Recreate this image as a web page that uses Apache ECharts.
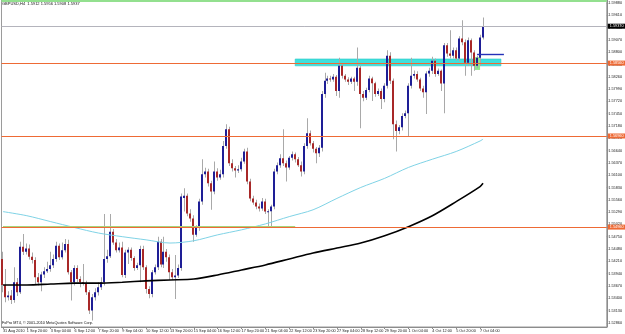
<!DOCTYPE html>
<html><head><meta charset="utf-8">
<script src="https://cdn.jsdelivr.net/npm/echarts@6/dist/echarts.min.js"></script>
<style>html,body{margin:0;padding:0;background:#fff}#c{width:625px;height:334px}</style>
</head><body><div id="c"></div>
<script>
// ---------- data ----------
const xLabels = ["31 Aug 2010","1 Sep 20:00","3 Sep 04:00","6 Sep 12:00","7 Sep 20:00","9 Sep 04:00","10 Sep 12:00","13 Sep 20:00","15 Sep 04:00","16 Sep 12:00","17 Sep 20:00","21 Sep 04:00","22 Sep 12:00","23 Sep 20:00","27 Sep 04:00","28 Sep 12:00","29 Sep 20:00","1 Oct 04:00","4 Oct 12:00","5 Oct 20:00","7 Oct 04:00"];
const yTicks = [1.5286,1.5313,1.5340,1.5367,1.5394,1.5421,1.5448,1.5475,1.5502,1.5529,1.5556,1.5583,1.5610,1.5637,1.5664,1.5691,1.5718,1.5745,1.5772,1.5799,1.5826,1.5853,1.5880,1.5907,1.5934,1.5961,1.5988];
// [open, close, low, high]
const ohlc = [
[1.5426,1.5369,1.5353,1.5442],[1.5369,1.5342,1.5331,1.5404],[1.5342,1.5346,1.5335,1.5355],[1.5346,1.5336,1.5327,1.5358],
[1.5336,1.5375,1.5330,1.5408],[1.5375,1.5353,1.5345,1.5384],[1.5353,1.5453,1.5349,1.5464],[1.5453,1.5442,1.5435,1.5481],
[1.5442,1.5449,1.5436,1.5460],[1.5449,1.5431,1.5425,1.5458],[1.5431,1.5424,1.5416,1.5440],[1.5424,1.5386,1.5370,1.5430],
[1.5386,1.5375,1.5368,1.5395],[1.5375,1.5392,1.5355,1.5398],[1.5392,1.5399,1.5384,1.5408],[1.5399,1.5404,1.5395,1.5420],
[1.5404,1.5412,1.5398,1.5442],[1.5412,1.5426,1.5406,1.5436],[1.5426,1.5455,1.5420,1.5464],[1.5455,1.5430,1.5424,1.5460],
[1.5430,1.5445,1.5425,1.5462],[1.5445,1.5459,1.5440,1.5470],[1.5459,1.5397,1.5392,1.5468],[1.5397,1.5375,1.5335,1.5402],
[1.5375,1.5406,1.5368,1.5412],[1.5406,1.5382,1.5375,1.5412],[1.5382,1.5375,1.5364,1.5388],[1.5375,1.5373,1.5368,1.5415],
[1.5373,1.5353,1.5347,1.5378],[1.5353,1.5313,1.5305,1.5358],[1.5313,1.5342,1.5291,1.5349],[1.5342,1.5353,1.5335,1.5362],
[1.5353,1.5364,1.5346,1.5375],[1.5364,1.5375,1.5358,1.5386],[1.5375,1.5426,1.5368,1.5525],[1.5426,1.5432,1.5418,1.5446],
[1.5432,1.5486,1.5428,1.5525],[1.5486,1.5462,1.5457,1.5492],[1.5462,1.5445,1.5440,1.5470],[1.5445,1.5451,1.5440,1.5462],
[1.5451,1.5391,1.5386,1.5464],[1.5391,1.5440,1.5384,1.5446],[1.5440,1.5446,1.5415,1.5452],[1.5446,1.5428,1.5422,1.5451],
[1.5428,1.5406,1.5400,1.5432],[1.5406,1.5412,1.5402,1.5418],[1.5412,1.5448,1.5375,1.5455],[1.5448,1.5408,1.5402,1.5455],
[1.5408,1.5360,1.5350,1.5412],[1.5360,1.5349,1.5340,1.5366],[1.5349,1.5397,1.5342,1.5402],[1.5397,1.5408,1.5392,1.5414],
[1.5408,1.5464,1.5402,1.5475],[1.5464,1.5414,1.5408,1.5470],[1.5414,1.5442,1.5406,1.5475],[1.5442,1.5430,1.5420,1.5448],
[1.5430,1.5397,1.5380,1.5436],[1.5397,1.5386,1.5380,1.5404],[1.5386,1.5390,1.5338,1.5435],[1.5390,1.5406,1.5384,1.5414],
[1.5406,1.5563,1.5400,1.5570],[1.5560,1.5565,1.5530,1.5581],[1.5565,1.5526,1.5520,1.5570],[1.5526,1.5515,1.5508,1.5535],
[1.5515,1.5479,1.5464,1.5522],[1.5479,1.5495,1.5475,1.5500],[1.5495,1.5552,1.5488,1.5558],[1.5552,1.5612,1.5545,1.5645],
[1.5612,1.5618,1.5605,1.5626],[1.5618,1.5592,1.5585,1.5624],[1.5592,1.5574,1.5534,1.5598],[1.5574,1.5618,1.5568,1.5640],
[1.5618,1.5605,1.5598,1.5625],[1.5605,1.5612,1.5600,1.5622],[1.5612,1.5674,1.5605,1.5685],[1.5674,1.5711,1.5668,1.5722],
[1.5711,1.5636,1.5630,1.5716],[1.5636,1.5625,1.5618,1.5645],[1.5625,1.5620,1.5605,1.5630],[1.5620,1.5623,1.5615,1.5632],
[1.5623,1.5640,1.5618,1.5648],[1.5640,1.5662,1.5635,1.5668],[1.5662,1.5596,1.5590,1.5670],[1.5596,1.5559,1.5553,1.5602],
[1.5559,1.5550,1.5545,1.5565],[1.5550,1.5541,1.5535,1.5556],[1.5541,1.5537,1.5530,1.5548],[1.5537,1.5552,1.5532,1.5560],
[1.5552,1.5530,1.5525,1.5558],[1.5530,1.5531,1.5497,1.5535],[1.5531,1.5541,1.5497,1.5545],[1.5541,1.5618,1.5535,1.5624],
[1.5618,1.5632,1.5612,1.5638],[1.5632,1.5647,1.5626,1.5656],[1.5647,1.5636,1.5630,1.5711],[1.5636,1.5627,1.5596,1.5642],
[1.5627,1.5648,1.5622,1.5652],[1.5648,1.5656,1.5642,1.5662],[1.5656,1.5645,1.5638,1.5660],[1.5645,1.5632,1.5628,1.5650],
[1.5632,1.5618,1.5607,1.5640],[1.5618,1.5674,1.5612,1.5680],[1.5674,1.5702,1.5668,1.5735],[1.5702,1.5680,1.5675,1.5708],
[1.5680,1.5668,1.5660,1.5685],[1.5668,1.5658,1.5636,1.5672],[1.5658,1.5670,1.5650,1.5676],[1.5670,1.5788,1.5662,1.5795],
[1.5788,1.5817,1.5780,1.5835],[1.5817,1.5822,1.5810,1.5828],[1.5822,1.5820,1.5815,1.5828],[1.5820,1.5826,1.5815,1.5832],
[1.5826,1.5795,1.5784,1.5830],[1.5795,1.5850,1.5780,1.5868],[1.5850,1.5828,1.5822,1.5855],[1.5828,1.5820,1.5815,1.5832],
[1.5820,1.5815,1.5808,1.5825],[1.5815,1.5822,1.5810,1.5826],[1.5822,1.5815,1.5795,1.5826],[1.5815,1.5846,1.5806,1.5890],
[1.5846,1.5788,1.5713,1.5850],[1.5788,1.5780,1.5772,1.5795],[1.5780,1.5797,1.5775,1.5802],[1.5797,1.5822,1.5792,1.5828],
[1.5822,1.5812,1.5773,1.5826],[1.5812,1.5788,1.5782,1.5815],[1.5788,1.5795,1.5784,1.5800],[1.5795,1.5777,1.5755,1.5800],
[1.5777,1.5806,1.5770,1.5812],[1.5806,1.5872,1.5800,1.5884],[1.5872,1.5817,1.5810,1.5880],[1.5817,1.5722,1.5689,1.5822],
[1.5722,1.5707,1.5662,1.5730],[1.5707,1.5715,1.5700,1.5720],[1.5715,1.5740,1.5708,1.5746],[1.5740,1.5746,1.5735,1.5752],
[1.5746,1.5806,1.5696,1.5812],[1.5806,1.5828,1.5800,1.5868],[1.5828,1.5832,1.5822,1.5840],[1.5832,1.5820,1.5815,1.5838],
[1.5820,1.5800,1.5795,1.5824],[1.5800,1.5792,1.5780,1.5806],[1.5792,1.5833,1.5744,1.5838],[1.5833,1.5839,1.5826,1.5846],
[1.5839,1.5861,1.5832,1.5870],[1.5861,1.5832,1.5826,1.5866],[1.5832,1.5839,1.5828,1.5844],[1.5839,1.5811,1.5795,1.5842],
[1.5811,1.5895,1.5746,1.5900],[1.5895,1.5877,1.5870,1.5900],[1.5877,1.5872,1.5866,1.5928],[1.5872,1.5884,1.5866,1.5890],
[1.5884,1.5866,1.5861,1.5890],[1.5866,1.5910,1.5860,1.5915],[1.5910,1.5902,1.5895,1.5950],[1.5902,1.5857,1.5828,1.5908],
[1.5857,1.5906,1.5850,1.5912],[1.5906,1.5879,1.5828,1.5910],[1.5879,1.5850,1.5839,1.5884],[1.5850,1.5868,1.5845,1.5872],
[1.5868,1.5912,1.5850,1.5918],[1.5912,1.5937,1.5908,1.5956]
];
const maIdx   = [0,8,16,24,32,40,48,56,64,72,80,88,96,104,112,120,128,136,144,152,160,161];
const maCyan  = [1.5530,1.5521,1.5508,1.5495,1.5483,1.5475,1.5468,1.5461,1.5466,1.5479,1.5490,1.5503,1.5519,1.5534,1.5559,1.5583,1.5603,1.5627,1.5645,1.5662,1.5685,1.5689];
const maBlack = [1.5369,1.5369,1.5371,1.5373,1.5373,1.5375,1.5378,1.5380,1.5382,1.5391,1.5402,1.5413,1.5426,1.5439,1.5450,1.5461,1.5477,1.5497,1.5521,1.5552,1.5585,1.5592];
const topLevel = 1.5992;
const bidPrice = 1.5937;
const orangeLevels = [1.5856, 1.5696, 1.5496];
const bandZone = [1.5865, 1.5850];
const greenZone = [1.5869, 1.5841];
const blueLevel = 1.5876;
const titleText = "GBPUSD,H4  1.5912 1.5956 1.5908 1.5937";
const footText = "FxPro MT4, \u00a9 2001-2010 MetaQuotes Software Corp.";

// ---------- chart ----------
const FONT = "'Liberation Sans', Arial, sans-serif";
const BULL = '#1e1e96', BEAR = '#a82828', WICK = '#a9a9a9';
const ORANGE = '#ee6a35';
const N = 203;
const cats = Array.from({length: N}, (_, i) => String(i));
const candleData = ohlc.map((d, i) => [i, d[0], d[1], d[2], d[3]]);

const chart = echarts.init(document.getElementById('c'), null, {renderer: 'canvas'});
const boxLabel = (v, bg) => ({
  show: true, position: 'end', distance: 1, formatter: v.toFixed(5),
  color: '#fff', backgroundColor: bg, padding: [0.5, 2], fontSize: 3.8, fontFamily: FONT
});

chart.setOption({
  animation: false,
  backgroundColor: '#fff',
  grid: {left: 1, right: 14, top: 0, bottom: 7, show: true, borderColor: '#9a9a9a', borderWidth: 1, backgroundColor: '#fff'},
  xAxis: {
    type: 'category', data: cats, boundaryGap: true,
    axisLine: {show: true, lineStyle: {color: '#8c8c8c', width: 1}},
    axisTick: {show: true, interval: (i) => i % 8 === 0 && i / 8 < xLabels.length, length: 2, alignWithLabel: true, lineStyle: {color: '#8c8c8c'}},
    axisLabel: {interval: (i) => i % 8 === 0 && i / 8 < xLabels.length, formatter: (v, i) => xLabels[i / 8] || '',
      fontSize: 3.8, color: '#222', align: 'left', margin: 2, fontFamily: FONT},
    splitLine: {show: false}
  },
  yAxis: {
    type: 'value', position: 'right', min: 1.52767, max: 1.59945,
    axisLine: {show: true, lineStyle: {color: '#8c8c8c', width: 1}},
    axisTick: {show: true, length: 1.5, customValues: yTicks, lineStyle: {color: '#8c8c8c'}},
    axisLabel: {customValues: yTicks, formatter: (v) => v.toFixed(5), fontSize: 3.8, color: '#222', margin: 1.5, fontFamily: FONT},
    splitLine: {show: false}
  },
  graphic: [
    {type: 'text', left: 2, top: 2, z: 100, style: {text: titleText, fontSize: 4, fill: '#111', fontFamily: FONT}},
    {type: 'text', left: 2, top: 321, z: 100, style: {text: footText, fontSize: 3.8, fill: '#111', fontFamily: FONT}}
  ],
  series: [
    {
      name: 'levels', type: 'line', data: [], z: 1, silent: true,
      markLine: {
        silent: true, symbol: ['none', 'none'], animation: false, precision: 5,
        data: [
          {yAxis: topLevel, lineStyle: {color: '#93e08f', width: 2.2, type: 'solid'}, label: {show: false}},
          {yAxis: bidPrice, lineStyle: {color: '#b4b4bc', width: 1, type: 'solid'}, label: boxLabel(bidPrice, '#000')},
          {yAxis: orangeLevels[0], lineStyle: {color: ORANGE, width: 1, type: 'solid'}, label: boxLabel(orangeLevels[0], ORANGE)},
          {yAxis: orangeLevels[1], lineStyle: {color: ORANGE, width: 1, type: 'solid'}, label: boxLabel(orangeLevels[1], ORANGE)},
          {yAxis: orangeLevels[2], lineStyle: {color: ORANGE, width: 1.2, type: 'solid'}, label: boxLabel(orangeLevels[2], ORANGE)},
          [{coord: [0, orangeLevels[2] + 0.0002], lineStyle: {color: '#a8d47a', width: 1.2, type: 'solid'}, label: {show: false}},
           {coord: [98, orangeLevels[2] + 0.0002]}]
        ]
      }
    },
    {
      name: 'zones', type: 'line', data: [], z: 2, silent: true,
      markArea: {
        silent: true,
        data: [
          [{coord: [98, bandZone[0]], itemStyle: {color: '#3fe0dc', borderColor: '#2cc8c8', borderWidth: 0.6}}, {coord: [167, bandZone[1]]}],
          [{coord: [158, greenZone[0]], itemStyle: {color: '#8fe88f'}}, {coord: [160, greenZone[1]]}]
        ]
      }
    },
    {
      name: 'GBPUSD', type: 'custom', z: 3, data: candleData,
      encode: {x: 0, y: [1, 2, 3, 4]},
      renderItem: function (params, api) {
        const idx = api.value(0);
        const o = api.value(1), c = api.value(2), l = api.value(3), h = api.value(4);
        const pO = api.coord([idx, o]), pC = api.coord([idx, c]);
        const pL = api.coord([idx, l]), pH = api.coord([idx, h]);
        const cx = Math.floor(pO[0]);
        const top = Math.min(pO[1], pC[1]), bot = Math.max(pO[1], pC[1]);
        const bh = Math.max(1, bot - top);
        const col = c > o ? BULL : (c < o ? BEAR : WICK);
        return {type: 'group', children: [
          {type: 'rect', shape: {x: cx, y: pH[1], width: 1, height: pL[1] - pH[1]}, style: {fill: WICK}},
          {type: 'rect', shape: {x: cx - 1, y: top, width: 2, height: bh}, style: {fill: col}}
        ]};
      }
    },
    {
      name: 'MA cyan', type: 'line', z: 4, smooth: 0.3, symbol: 'none', silent: true,
      data: maIdx.map((x, k) => [x, maCyan[k]]),
      lineStyle: {color: '#7fd3e6', width: 1}
    },
    {
      name: 'MA black', type: 'line', z: 4, smooth: 0.3, symbol: 'none', silent: true,
      data: maIdx.map((x, k) => [x, maBlack[k]]),
      lineStyle: {color: '#000', width: 1.6}
    },
    {
      name: 'blue', type: 'line', data: [], z: 5, silent: true,
      markLine: {
        silent: true, symbol: ['none', 'none'], precision: 5,
        data: [[{coord: [159, blueLevel], lineStyle: {color: '#2431b8', width: 1.4, type: 'solid'}, label: {show: false}},
                {coord: [168, blueLevel]}]]
      }
    }
  ]
});
</script></body></html>
